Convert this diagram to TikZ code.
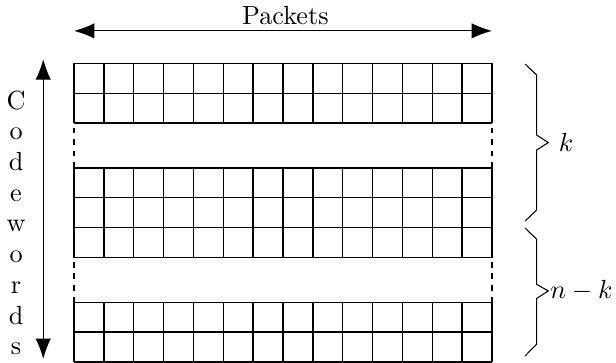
\documentclass[tikz,border=0pt]{standalone}
\usetikzlibrary{arrows.meta}
\begin{document}
\begin{tikzpicture}[x=0.4cm,y=0.4cm,
  cell/.style={line width=0.5pt, step=0.4cm},
  gapline/.style={dash pattern=on 2.2pt off 2.2pt, line width=0.5pt},
  dimarrow/.style={line width=0.4pt, {Latex[length=7.8pt,width=5.9pt]}-{Latex[length=7.8pt,width=5.9pt]}},
  bracepath/.style={line width=0.4pt, line join=miter}]
\useasboundingbox (-2.478,0) rectangle (18.153,12.124);
% grid blocks
\draw[cell] (0,0) grid (14,2);
\begin{scope}[shift={(0,3.5)}]
  \draw[cell] (0,0) grid (14,3);
\end{scope}
\draw[cell] (0,8) grid (14,10);
% dashed gaps
\draw[gapline] (0,2) -- (0,3.5);
\draw[gapline] (14,2) -- (14,3.5);
\draw[gapline] (0,6.5) -- (0,8);
\draw[gapline] (14,6.5) -- (14,8);
% packets arrow
\coordinate (pl) at (0,11.09);
\coordinate (pr) at (14,11.09);
\draw[dimarrow] (pl) -- (pr);
\node[anchor=base] (pk) at (7.08,11.32) {Packets};
% codewords arrow
\coordinate (ct) at (-1.03,10.14);
\coordinate (cb) at (-1.03,0.1);
\draw[dimarrow] (ct) -- (cb);
\node[align=center, inner sep=0pt, font=\fontsize{10}{11.7}\selectfont] (cw) at (-1.94,4.66) {C\\o\\d\\e\\w\\o\\r\\d\\s};
% braces
\coordinate (ktip) at (15.886,7.35);
\draw[bracepath] (15.105,9.98) -- (15.497,9.61) -- (15.497,7.60) -- (ktip) -- (15.497,7.10) -- (15.497,5.09) -- (15.105,4.72);
\node (k) at (16.48,7.35) {$k$};
\coordinate (nktip) at (15.886,2.38);
\draw[bracepath] (15.105,4.49) -- (15.497,4.11) -- (15.497,2.60) -- (nktip) -- (15.497,2.13) -- (15.497,0.60) -- (15.105,0.20);
\node[anchor=west, inner sep=0.6pt] (nk) at (nktip) {$n-k$};
\end{tikzpicture}
\end{document}
